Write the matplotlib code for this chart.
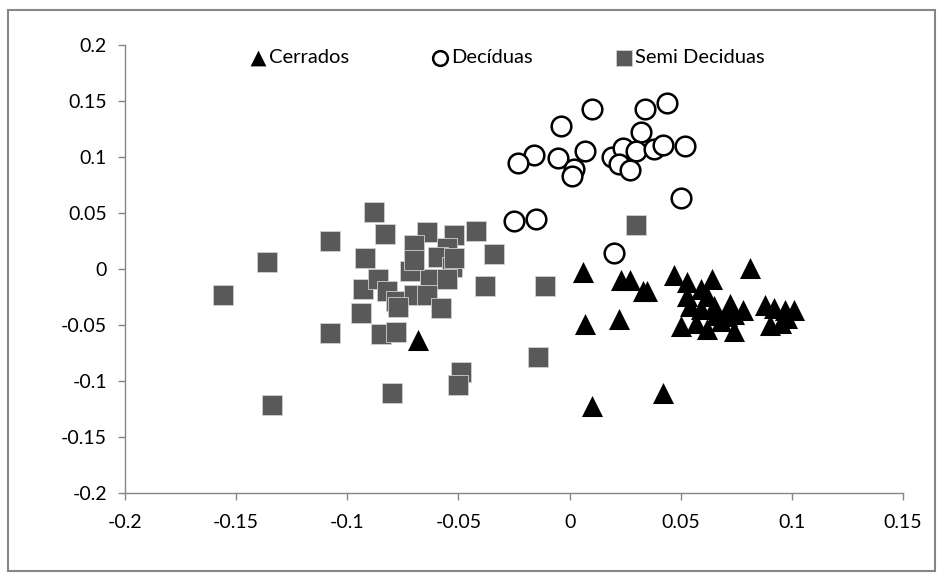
import matplotlib.pyplot as plt
from matplotlib.patches import Rectangle

# Cerrados (triangles)
cer_x = [0.006, 0.023, 0.027, 0.033, 0.035, 0.081, 0.007, 0.022, 0.042, 0.010,
         0.047, 0.053, 0.064, 0.059, 0.053, 0.062, 0.054, 0.059, 0.065, 0.072,
         0.078, 0.074, 0.050, 0.057, 0.062, 0.068, 0.074, 0.071, 0.066, 0.088,
         0.092, 0.097, 0.101, 0.090, 0.095, 0.098, -0.068]
cer_y = [-0.003, -0.010, -0.010, -0.020, -0.020, 0.001, -0.049, -0.045, -0.111, -0.122,
         -0.005, -0.012, -0.009, -0.018, -0.024, -0.024, -0.033, -0.036, -0.033, -0.031,
         -0.037, -0.040, -0.051, -0.048, -0.054, -0.046, -0.055, -0.042, -0.041, -0.032,
         -0.035, -0.037, -0.037, -0.050, -0.048, -0.044, -0.063]

# Deciduas (open circles)
dec_x = [0.010, 0.044, 0.034, -0.004, 0.032, -0.016, -0.023, -0.005, 0.007, 0.002,
         0.001, 0.019, 0.024, 0.030, 0.022, 0.027, 0.038, 0.042, 0.052, 0.050,
         -0.025, -0.015, 0.020]
dec_y = [0.143, 0.148, 0.143, 0.128, 0.122, 0.102, 0.095, 0.099, 0.105, 0.089,
         0.083, 0.100, 0.108, 0.105, 0.094, 0.088, 0.107, 0.111, 0.110, 0.063,
         0.043, 0.045, 0.014]

# Semi Deciduas (squares)
semi_x = [-0.088, -0.083, -0.108, -0.136, -0.156, -0.092, -0.064, -0.042, -0.052, -0.070,
          -0.055, -0.034, -0.072, -0.059, -0.053, -0.063, -0.055, -0.038, -0.093, -0.086,
          -0.082, -0.078, -0.070, -0.064, -0.077, -0.058, -0.094, -0.108, -0.085, -0.078,
          -0.049, -0.050, -0.080, -0.134, -0.011, -0.014, 0.030, -0.070, -0.052]
semi_y = [0.051, 0.031, 0.025, 0.006, -0.023, 0.010, 0.033, 0.034, 0.030, 0.021,
          0.019, 0.013, -0.002, 0.011, 0.002, -0.009, -0.009, -0.015, -0.018, -0.009,
          -0.020, -0.029, -0.023, -0.023, -0.034, -0.035, -0.039, -0.057, -0.058, -0.056,
          -0.092, -0.104, -0.111, -0.121, -0.015, -0.079, 0.039, 0.008, 0.010]

plt.rcParams['font.family'] = ['Lato', 'DejaVu Sans']

fig = plt.figure(figsize=(9.43, 5.80), dpi=100)
ax = fig.add_axes([0.1326, 0.15, 0.825, 0.7724])

ax.scatter(cer_x, cer_y, marker='^', s=230, color='black', linewidths=0, label='Cerrados', zorder=3)
ax.scatter(dec_x, dec_y, marker='o', s=200, facecolor='white', edgecolor='black', linewidths=1.8,
           label='Decíduas', zorder=3)
ax.scatter(semi_x, semi_y, marker='s', s=210, color='#595959', edgecolor='#d0d0d0', linewidths=0.6,
           label='Semi Deciduas', zorder=3)

ax.set_xlim(-0.2, 0.15)
ax.set_ylim(-0.2, 0.2)
ax.set_xticks([-0.2, -0.15, -0.1, -0.05, 0, 0.05, 0.1, 0.15])
ax.set_yticks([-0.2, -0.15, -0.1, -0.05, 0, 0.05, 0.1, 0.15, 0.2])
ax.set_xticklabels(['-0.2', '-0.15', '-0.1', '-0.05', '0', '0.05', '0.1', '0.15'])
ax.set_yticklabels(['-0.2', '-0.15', '-0.1', '-0.05', '0', '0.05', '0.1', '0.15', '0.2'])

for s in ['top', 'right']:
    ax.spines[s].set_visible(False)
for s in ['left', 'bottom']:
    ax.spines[s].set_color('#868686')
    ax.spines[s].set_linewidth(1.0)
ax.tick_params(colors='#868686', labelcolor='black', labelsize=14, length=5, width=1.0)
ax.tick_params(axis='x', pad=10)
ax.tick_params(axis='y', pad=8)

ax.legend(loc='center', bbox_to_anchor=(0.49, 0.972), ncol=3, frameon=False, fontsize=14.5,
          markerscale=0.75, handletextpad=0.05, columnspacing=4.0, handlelength=1.0)

# outer chart border
fig.patches.append(Rectangle((0.009, 0.015), 0.982, 0.968, transform=fig.transFigure,
                             fill=False, edgecolor='#868686', linewidth=1.5))

fig.savefig('out.png', dpi=100)
